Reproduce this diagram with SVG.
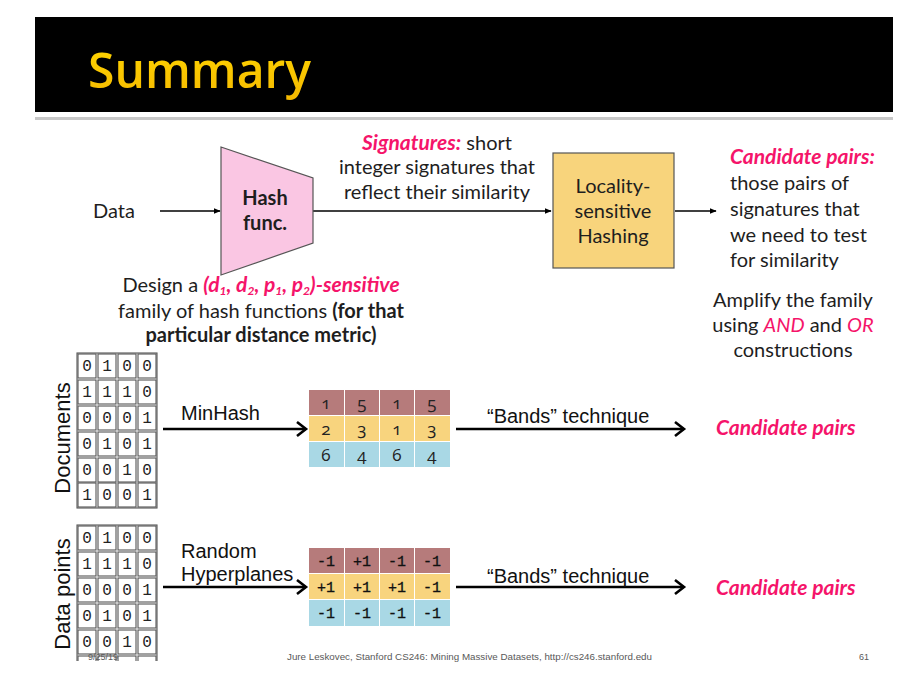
<svg xmlns="http://www.w3.org/2000/svg" width="924" height="699" viewBox="0 0 924 699">
  <defs>
    <marker id="tip" viewBox="0 0 10 10" refX="9" refY="5" markerWidth="7" markerHeight="7" markerUnits="userSpaceOnUse" orient="auto">
      <path d="M0,1 L10,5 L0,9 z" fill="#000"/>
    </marker>
    <clipPath id="pageBottom">
      <rect x="0" y="0" width="924" height="661"/>
    </clipPath>
    <linearGradient id="gold" x1="0" y1="0" x2="0" y2="1">
      <stop offset="0" stop-color="#FFD800"/>
      <stop offset="1" stop-color="#F5B800"/>
    </linearGradient>
  </defs>
  <style>
    .body { font-family: Lato, "Open Sans", sans-serif; font-size: 20px; fill: #1e1e1e; }
    .pink { fill: #F5146A; font-weight: bold; font-style: italic; font-size: 21px; }
    .pinkit { fill: #F5146A; font-style: italic; }
    .b { font-weight: bold; }
    .sub { font-size: 12px; }
    .arial { font-family: "Liberation Sans", Arial, sans-serif; fill: #111; }
    .bit { font-family: "Liberation Mono", monospace; font-size: 16px; fill: #222; text-anchor: middle; }
    .num { font-family: "Open Sans", Lato, sans-serif; font-size: 17px; fill: #222; text-anchor: middle; font-variant-numeric: oldstyle-nums; }
    .sign { font-family: "Liberation Mono", monospace; font-size: 15px; fill: #111; text-anchor: middle; stroke: #111; stroke-width: 0.3; }
    .thin { stroke: #000; stroke-width: 1.3; fill: none; }
    .thick { stroke: #000; stroke-width: 2.6; fill: none; }
    .cell { fill: #fff; stroke: #555; stroke-width: 1.1; }
    .foot { font-family: "Liberation Sans", Arial, sans-serif; font-size: 9px; fill: #595959; }
  </style>

  <rect width="924" height="699" fill="#fff"/>

  <!-- title band -->
  <g id="title">
    <rect x="35" y="17" width="858" height="95" fill="#000"/>
    <rect x="35" y="117" width="858" height="3" fill="#c8c8c8"/>
    <text x="88" y="88" font-family="'Open Sans', Lato, sans-serif" font-size="48" font-weight="600" fill="url(#gold)" textLength="223" lengthAdjust="spacingAndGlyphs">Summary</text>
  </g>

  <!-- connectors -->
  <g id="connectors">
    <line class="thin" x1="160" y1="211" x2="220" y2="211" marker-end="url(#tip)"/>
    <line class="thin" x1="313" y1="211" x2="551" y2="211" marker-end="url(#tip)"/>
    <line class="thin" x1="675" y1="211" x2="716" y2="211" marker-end="url(#tip)"/>
    <line class="thick" x1="163" y1="429" x2="306" y2="429"/>
    <polyline class="thick" points="297,422 306,429 297,436"/>
    <line class="thick" x1="456" y1="429" x2="684" y2="429"/>
    <polyline class="thick" points="675,422 684,429 675,436"/>
    <line class="thick" x1="163" y1="587" x2="306" y2="587"/>
    <polyline class="thick" points="297,580 306,587 297,594"/>
    <line class="thick" x1="456" y1="587" x2="684" y2="587"/>
    <polyline class="thick" points="675,580 684,587 675,594"/>
  </g>

  <!-- upper pipeline -->
  <g id="data">
    <text class="body" x="93" y="218" font-size="21">Data</text>
  </g>

  <g id="hash-func">
    <polygon points="221,147 313,178 313,243 221,275" fill="#FAC6E3" stroke="#555" stroke-width="1.2"/>
    <text class="body b" x="265" y="205" text-anchor="middle">Hash</text>
    <text class="body b" x="265" y="230" text-anchor="middle">func.</text>
  </g>

  <g id="signatures-note">
    <text class="body" x="437" y="150" text-anchor="middle"><tspan class="pink">Signatures:</tspan> short</text>
    <text class="body" x="437" y="174" text-anchor="middle">integer signatures that</text>
    <text class="body" x="437" y="199" text-anchor="middle">reflect their similarity</text>
  </g>

  <g id="lsh">
    <rect x="553" y="153" width="121" height="115" fill="#F8D47C" stroke="#555" stroke-width="1.2"/>
    <text class="body" x="613" y="193" text-anchor="middle">Locality-</text>
    <text class="body" x="613" y="218" text-anchor="middle">sensitive</text>
    <text class="body" x="613" y="243" text-anchor="middle">Hashing</text>
  </g>

  <g id="candidate-note">
    <text class="body" x="730" y="164"><tspan class="pink">Candidate pairs:</tspan></text>
    <text class="body" x="730" y="190">those pairs of</text>
    <text class="body" x="730" y="216">signatures that</text>
    <text class="body" x="730" y="242">we need to test</text>
    <text class="body" x="730" y="267">for similarity</text>
  </g>

  <g id="amplify-note">
    <text class="body" x="793" y="307" text-anchor="middle">Amplify the family</text>
    <text class="body" x="793" y="332" text-anchor="middle">using <tspan class="pinkit">AND</tspan> and <tspan class="pinkit">OR</tspan></text>
    <text class="body" x="793" y="357" text-anchor="middle">constructions</text>
  </g>

  <g id="design-note">
    <text class="body" x="261" y="292" text-anchor="middle">Design a <tspan class="pink">(d<tspan class="sub" dy="3">1</tspan><tspan dy="-3">, d</tspan><tspan class="sub" dy="3">2</tspan><tspan dy="-3">, p</tspan><tspan class="sub" dy="3">1</tspan><tspan dy="-3">, p</tspan><tspan class="sub" dy="3">2</tspan><tspan dy="-3">)-sensitive</tspan></tspan></text>
    <text class="body" x="261" y="318" text-anchor="middle">family of hash functions <tspan class="b">(for that</tspan></text>
    <text class="body b" x="261" y="342" text-anchor="middle">particular distance metric)</text>
  </g>

  <!-- documents row -->
  <g id="documents">
    <text class="arial" font-size="22" transform="translate(70,438) rotate(-90)" text-anchor="middle">Documents</text>
    <rect x="77" y="353" width="80" height="155" fill="none" stroke="#555" stroke-width="1.1"/>
    <g>
      <rect class="cell" x="78" y="354" width="18" height="24"/><rect class="cell" x="98" y="354" width="18" height="24"/><rect class="cell" x="118" y="354" width="18" height="24"/><rect class="cell" x="138" y="354" width="18" height="24"/>
      <rect class="cell" x="78" y="380" width="18" height="24"/><rect class="cell" x="98" y="380" width="18" height="24"/><rect class="cell" x="118" y="380" width="18" height="24"/><rect class="cell" x="138" y="380" width="18" height="24"/>
      <rect class="cell" x="78" y="406" width="18" height="24"/><rect class="cell" x="98" y="406" width="18" height="24"/><rect class="cell" x="118" y="406" width="18" height="24"/><rect class="cell" x="138" y="406" width="18" height="24"/>
      <rect class="cell" x="78" y="432" width="18" height="24"/><rect class="cell" x="98" y="432" width="18" height="24"/><rect class="cell" x="118" y="432" width="18" height="24"/><rect class="cell" x="138" y="432" width="18" height="24"/>
      <rect class="cell" x="78" y="458" width="18" height="24"/><rect class="cell" x="98" y="458" width="18" height="24"/><rect class="cell" x="118" y="458" width="18" height="24"/><rect class="cell" x="138" y="458" width="18" height="24"/>
      <rect class="cell" x="78" y="483" width="18" height="24"/><rect class="cell" x="98" y="483" width="18" height="24"/><rect class="cell" x="118" y="483" width="18" height="24"/><rect class="cell" x="138" y="483" width="18" height="24"/>
    </g>
    <text class="bit" y="371"><tspan x="87">0</tspan><tspan x="107">1</tspan><tspan x="127">0</tspan><tspan x="147">0</tspan></text>
    <text class="bit" y="397"><tspan x="87">1</tspan><tspan x="107">1</tspan><tspan x="127">1</tspan><tspan x="147">0</tspan></text>
    <text class="bit" y="423"><tspan x="87">0</tspan><tspan x="107">0</tspan><tspan x="127">0</tspan><tspan x="147">1</tspan></text>
    <text class="bit" y="449"><tspan x="87">0</tspan><tspan x="107">1</tspan><tspan x="127">0</tspan><tspan x="147">1</tspan></text>
    <text class="bit" y="475"><tspan x="87">0</tspan><tspan x="107">0</tspan><tspan x="127">1</tspan><tspan x="147">0</tspan></text>
    <text class="bit" y="500"><tspan x="87">1</tspan><tspan x="107">0</tspan><tspan x="127">0</tspan><tspan x="147">1</tspan></text>
  </g>

  <g id="minhash-label">
    <text class="arial" x="181" y="420" font-size="20">MinHash</text>
  </g>

  <g id="minhash-signatures">
    <rect x="309" y="390" width="35" height="25" fill="#B67B7B"/><rect x="345" y="390" width="34" height="25" fill="#B67B7B"/><rect x="380" y="390" width="34" height="25" fill="#B67B7B"/><rect x="415" y="390" width="35" height="25" fill="#B67B7B"/>
    <rect x="309" y="416" width="35" height="25" fill="#F8D47E"/><rect x="345" y="416" width="34" height="25" fill="#F8D47E"/><rect x="380" y="416" width="34" height="25" fill="#F8D47E"/><rect x="415" y="416" width="35" height="25" fill="#F8D47E"/>
    <rect x="309" y="442" width="35" height="25" fill="#A9D8E5"/><rect x="345" y="442" width="34" height="25" fill="#A9D8E5"/><rect x="380" y="442" width="34" height="25" fill="#A9D8E5"/><rect x="415" y="442" width="35" height="25" fill="#A9D8E5"/>
    <text class="num" y="409"><tspan x="326">1</tspan><tspan x="362">5</tspan><tspan x="397">1</tspan><tspan x="432">5</tspan></text>
    <text class="num" y="435"><tspan x="326">2</tspan><tspan x="362">3</tspan><tspan x="397">1</tspan><tspan x="432">3</tspan></text>
    <text class="num" y="461"><tspan x="326">6</tspan><tspan x="362">4</tspan><tspan x="397">6</tspan><tspan x="432">4</tspan></text>
  </g>

  <g id="bands-1">
    <text class="arial" x="487" y="423" font-size="20">“Bands” technique</text>
  </g>

  <g id="candidates-1">
    <text class="body pink" x="716" y="435">Candidate pairs</text>
  </g>

  <!-- data points row -->
  <g id="data-points" clip-path="url(#pageBottom)">
    <text class="arial" font-size="22" transform="translate(70,594) rotate(-90)" text-anchor="middle">Data points</text>
    <rect x="77" y="525" width="80" height="160" fill="none" stroke="#555" stroke-width="1.1"/>
    <g>
      <rect class="cell" x="78" y="526" width="18" height="24"/><rect class="cell" x="98" y="526" width="18" height="24"/><rect class="cell" x="118" y="526" width="18" height="24"/><rect class="cell" x="138" y="526" width="18" height="24"/>
      <rect class="cell" x="78" y="552" width="18" height="24"/><rect class="cell" x="98" y="552" width="18" height="24"/><rect class="cell" x="118" y="552" width="18" height="24"/><rect class="cell" x="138" y="552" width="18" height="24"/>
      <rect class="cell" x="78" y="578" width="18" height="24"/><rect class="cell" x="98" y="578" width="18" height="24"/><rect class="cell" x="118" y="578" width="18" height="24"/><rect class="cell" x="138" y="578" width="18" height="24"/>
      <rect class="cell" x="78" y="604" width="18" height="24"/><rect class="cell" x="98" y="604" width="18" height="24"/><rect class="cell" x="118" y="604" width="18" height="24"/><rect class="cell" x="138" y="604" width="18" height="24"/>
      <rect class="cell" x="78" y="630" width="18" height="24"/><rect class="cell" x="98" y="630" width="18" height="24"/><rect class="cell" x="118" y="630" width="18" height="24"/><rect class="cell" x="138" y="630" width="18" height="24"/>
      <rect class="cell" x="78" y="656" width="18" height="24"/><rect class="cell" x="98" y="656" width="18" height="24"/><rect class="cell" x="118" y="656" width="18" height="24"/><rect class="cell" x="138" y="656" width="18" height="24"/>
    </g>
    <text class="bit" y="543"><tspan x="87">0</tspan><tspan x="107">1</tspan><tspan x="127">0</tspan><tspan x="147">0</tspan></text>
    <text class="bit" y="569"><tspan x="87">1</tspan><tspan x="107">1</tspan><tspan x="127">1</tspan><tspan x="147">0</tspan></text>
    <text class="bit" y="595"><tspan x="87">0</tspan><tspan x="107">0</tspan><tspan x="127">0</tspan><tspan x="147">1</tspan></text>
    <text class="bit" y="621"><tspan x="87">0</tspan><tspan x="107">1</tspan><tspan x="127">0</tspan><tspan x="147">1</tspan></text>
    <text class="bit" y="647"><tspan x="87">0</tspan><tspan x="107">0</tspan><tspan x="127">1</tspan><tspan x="147">0</tspan></text>
  </g>

  <g id="hyperplanes-label">
    <text class="arial" x="181" y="558" font-size="20">Random</text>
    <text class="arial" x="181" y="581" font-size="20">Hyperplanes</text>
  </g>

  <g id="sketch-signatures">
    <rect x="309" y="548" width="35" height="25" fill="#B67B7B"/><rect x="345" y="548" width="34" height="25" fill="#B67B7B"/><rect x="380" y="548" width="34" height="25" fill="#B67B7B"/><rect x="415" y="548" width="35" height="25" fill="#B67B7B"/>
    <rect x="309" y="574" width="35" height="25" fill="#F8D47E"/><rect x="345" y="574" width="34" height="25" fill="#F8D47E"/><rect x="380" y="574" width="34" height="25" fill="#F8D47E"/><rect x="415" y="574" width="35" height="25" fill="#F8D47E"/>
    <rect x="309" y="600" width="35" height="26" fill="#A9D8E5"/><rect x="345" y="600" width="34" height="26" fill="#A9D8E5"/><rect x="380" y="600" width="34" height="26" fill="#A9D8E5"/><rect x="415" y="600" width="35" height="26" fill="#A9D8E5"/>
    <text class="sign" y="566"><tspan x="326">-1</tspan><tspan x="362">+1</tspan><tspan x="397">-1</tspan><tspan x="432">-1</tspan></text>
    <text class="sign" y="592"><tspan x="326">+1</tspan><tspan x="362">+1</tspan><tspan x="397">+1</tspan><tspan x="432">-1</tspan></text>
    <text class="sign" y="618"><tspan x="326">-1</tspan><tspan x="362">-1</tspan><tspan x="397">-1</tspan><tspan x="432">-1</tspan></text>
  </g>

  <g id="bands-2">
    <text class="arial" x="487" y="583" font-size="20">“Bands” technique</text>
  </g>

  <g id="candidates-2">
    <text class="body pink" x="716" y="595">Candidate pairs</text>
  </g>

  <!-- footer -->
  <g id="footer">
    <text class="foot" x="88" y="660">9/25/19</text>
    <text class="foot" x="287" y="660" textLength="365" lengthAdjust="spacingAndGlyphs">Jure Leskovec, Stanford CS246: Mining Massive Datasets, http://cs246.stanford.edu</text>
    <text class="foot" x="859" y="660">61</text>
  </g>
</svg>
